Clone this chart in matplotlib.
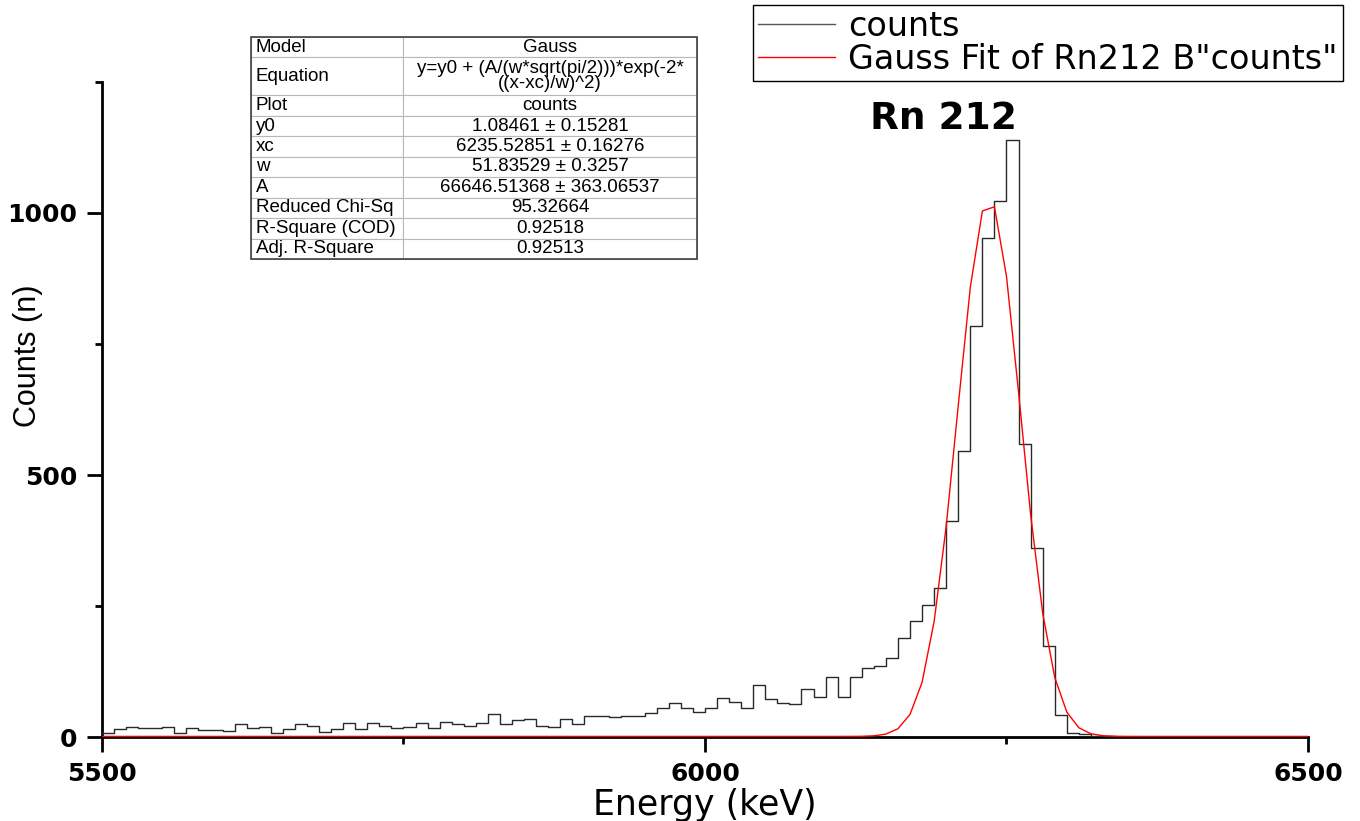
import matplotlib
matplotlib.use('Agg')
import matplotlib.pyplot as plt
from matplotlib import font_manager
from matplotlib.patches import Rectangle
from matplotlib.ticker import MultipleLocator
import numpy as np

# Rn 212 alpha line, 10 keV bins (value held from each energy to the next)
energy = np.arange(5500, 6500, 10)
counts = [8, 15, 20, 17, 17, 19, 8, 17, 14, 14,
          11, 24, 18, 19, 8, 16, 24, 21, 10, 15,
          27, 15, 27, 21, 17, 19, 27, 17, 29, 25,
          21, 27, 43, 25, 32, 35, 21, 19, 35, 25,
          40, 40, 38, 41, 41, 45, 55, 64, 56, 48,
          56, 74, 66, 56, 99, 72, 64, 63, 92, 76,
          114, 76, 114, 132, 135, 151, 189, 221, 251, 284,
          412, 546, 785, 953, 1022, 1139, 560, 360, 174, 42,
          7, 5, 2, 1, 0, 0, 0, 0, 0, 0,
          0, 0, 0, 0, 0, 0, 0, 0, 0, 0]

# Gauss fit results
y0 = 1.08461
xc = 6235.52851
w = 51.83529
A = 66646.51368

table_labels = ["Model", "Equation", "Plot", "y0", "xc", "w", "A",
                "Reduced Chi-Sq", "R-Square (COD)", "Adj. R-Square"]
table_values = ["Gauss",
                "y=y0 + (A/(w*sqrt(pi/2)))*exp(-2*\n((x-xc)/w)^2)",
                "counts",
                "1.08461 \u00b1 0.15281",
                "6235.52851 \u00b1 0.16276",
                "51.83529 \u00b1 0.3257",
                "66646.51368 \u00b1 363.06537",
                "95.32664",
                "0.92518",
                "0.92513"]

installed = {f.name for f in font_manager.fontManager.ttflist}
narrow = 'Liberation Sans Narrow' if 'Liberation Sans Narrow' in installed else 'Liberation Sans'

plt.rcParams['font.family'] = 'DejaVu Sans'
plt.rcParams['font.weight'] = 'bold'

W, H = 1360, 821
fig = plt.figure(figsize=(W / 100, H / 100), dpi=100)
ax = fig.add_axes([102 / W, 1 - 737 / H, 1206 / W, 655 / H])

x_steps = np.append(energy, 6500)
ax.step(x_steps, np.append(counts, counts[-1]), where='post',
        color='#2a2a2a', lw=1.0, label='counts', zorder=3)

fit = y0 + A / (w * np.sqrt(np.pi / 2)) * np.exp(-2 * ((x_steps - xc) / w) ** 2)
ax.plot(x_steps, fit, color='red', lw=1.0,
        label='Gauss Fit of Rn212 B"counts"', zorder=4)

ax.set_xlim(5500, 6500)
ax.set_ylim(0, 1250)
for side in ('top', 'right'):
    ax.spines[side].set_visible(False)
for side in ('left', 'bottom'):
    ax.spines[side].set_linewidth(2)
ax.xaxis.set_major_locator(MultipleLocator(500))
ax.xaxis.set_minor_locator(MultipleLocator(250))
ax.yaxis.set_major_locator(MultipleLocator(500))
ax.yaxis.set_minor_locator(MultipleLocator(250))
ax.tick_params(which='major', direction='out', length=11, width=2,
               labelsize=18, pad=7)
ax.tick_params(which='minor', direction='out', length=5, width=2)

ax.set_xlabel('Energy (keV)', fontsize=25)
ax.xaxis.set_label_coords(0.5, -0.078)
ax.set_ylabel('Counts (n)', fontsize=22, fontweight='normal', family=narrow)
ax.yaxis.set_label_coords(-0.049, 0.582)

fig.text(943 / W, 1 - 129 / H, 'Rn 212', ha='center', va='baseline',
         fontsize=27, fontweight='bold')

leg = fig.legend(loc='upper left', bbox_to_anchor=(753 / W, 1 - 5 / H),
                 prop={'size': 24, 'weight': 'normal'}, frameon=True,
                 fancybox=False, edgecolor='black', framealpha=1,
                 borderpad=0.15, handlelength=2.3, handletextpad=0.4,
                 labelspacing=0.0, borderaxespad=0)
leg.get_frame().set_linewidth(1)
leg.get_lines()[0].set_color('#555555')

# parameter table, placed in axes coordinates above the spectrum
tx0, tx1, ty0, ty1 = 251, 697, 259, 37
bbox = [(tx0 - 102) / 1206, (737 - ty0) / 655,
        (tx1 - tx0) / 1206, (ty0 - ty1) / 655]
tbl = ax.table(cellText=[[a, b] for a, b in zip(table_labels, table_values)],
               cellLoc='center', colWidths=[152, 294], bbox=bbox)
tbl.auto_set_font_size(False)
for (row, col), cell in tbl.get_celld().items():
    cell.set_edgecolor('#b8b8b8')
    cell.set_linewidth(0.8)
    cell.set_text_props(fontsize=13.5, fontweight='normal',
                        family='Liberation Sans', linespacing=0.85)
    if row == 1:
        cell.set_height(cell.get_height() * 1.85)
    if col == 0:
        cell.set_text_props(ha='left')
        cell.PAD = 0.03
ax.add_patch(Rectangle((bbox[0], bbox[1]), bbox[2], bbox[3],
                       transform=ax.transAxes, fill=False, lw=1.2,
                       edgecolor='#404040', clip_on=False, zorder=5))

fig.savefig('out.png', dpi=100)
